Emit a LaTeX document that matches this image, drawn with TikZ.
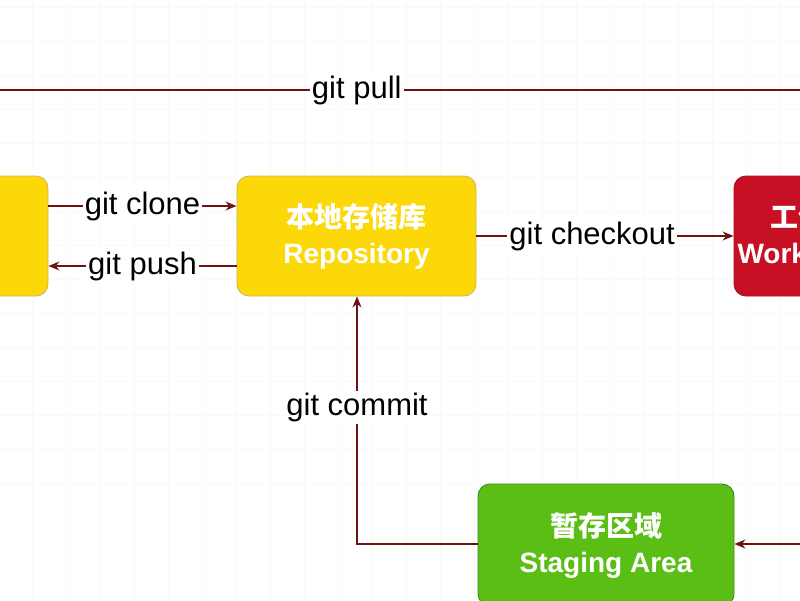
\documentclass[tikz,border=0pt]{standalone}
\usepackage{fontspec}
\setmainfont{Liberation Sans}
\newfontfamily\cjk{Noto Sans CJK SC}
\usetikzlibrary{arrows.meta}
\definecolor{repocolor}{RGB}{252, 216, 9}
\definecolor{repoline}{RGB}{214, 182, 86}
\definecolor{workcolor}{RGB}{200, 16, 36}
\definecolor{workline}{RGB}{160, 20, 30}
\definecolor{stagecolor}{RGB}{90, 190, 20}
\definecolor{stageline}{RGB}{60, 140, 20}
\definecolor{flowcolor}{RGB}{110, 20, 15}
\tikzset{
  box/.style={rounded corners=12pt, line width=0.9pt, minimum width=238pt,
    minimum height=120pt, align=center, text=white, font=\bfseries\fontsize{28}{36}\selectfont},
  flow/.style={draw=flowcolor, line width=1.3pt, -{Stealth[length=11pt,width=9pt]}},
  cmd/.style={fill=white, inner sep=2pt, font=\fontsize{31}{34}\selectfont}
}
\begin{document}
\begin{tikzpicture}[x=1pt,y=-1pt]
    \useasboundingbox (0,0) rectangle (800,600);
    \clip (0,0) rectangle (800,600);
    % grid
    \foreach \i in {-2,...,23} {
        \draw[gray!5, line width=0.6pt] (32+34*\i, 0) -- (32+34*\i, 600);
        \draw[gray!5, line width=0.6pt] (0, 415-34*\i) -- (800, 415-34*\i);
    }

    \node[box, fill=repocolor, draw=repoline] (remote) at (-71,236) {{\cjk\bfseries 远程仓库}\\Remote};
    \node[box, fill=repocolor, draw=repoline, minimum width=239pt] (repo) at (356.5,236) {{\cjk\bfseries 本地存储库}\\Repository};
    \node[box, fill=workcolor, draw=workline] (work) at (853,236) {};
    \node[white, align=center, font=\bfseries\fontsize{28}{36}\selectfont] (worktext) at (812,236) {{\cjk\bfseries 工作区}\\Workspace};
    \node[box, fill=stagecolor, draw=stageline, minimum width=256pt, minimum height=122pt] (stage) at (606,545) {{\cjk\bfseries 暂存区域}\\Staging Area};

    \coordinate (pullL) at (0,90);
    \coordinate (pullR) at (800,90);
    \coordinate (addR) at (800,544);
    \coordinate (bend) at (357,544);

    \draw[draw=flowcolor, line width=1.3pt] (pullL) -- node[cmd, pos=0.446] {git pull} (pullR);
    \draw[flow] (remote.east |- 0,206) -- node[cmd] {git clone} (repo.west |- 0,206);
    \draw[flow] (repo.west |- 0,266) -- node[cmd] {git push} (remote.east |- 0,266);
    \draw[flow] (repo.east) -- node[cmd, pos=0.45] {git checkout} (work.west);
    \draw[flow] (stage.west |- bend) -- (bend) -- node[cmd, pos=0.55] {git commit} (repo.south -| bend);
    \draw[flow] (addR) -- (stage.east |- addR);
\end{tikzpicture}
\end{document}
